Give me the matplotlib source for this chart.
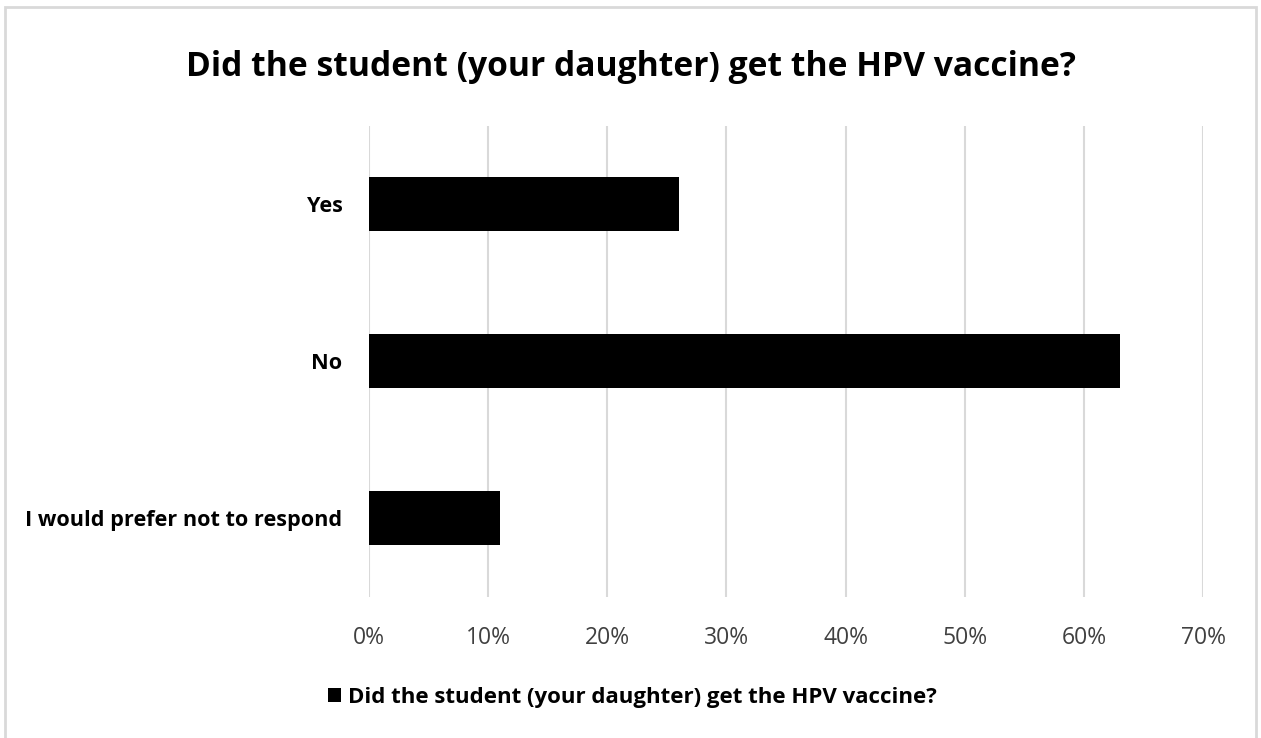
import matplotlib.pyplot as plt
from matplotlib.patches import Rectangle
from matplotlib.ticker import PercentFormatter

plt.rcParams['font.family'] = ['Open Sans', 'DejaVu Sans']

categories = ['Yes', 'No', 'I would prefer not to respond']
shares = [0.26, 0.63, 0.11]
xticks = [0, 0.1, 0.2, 0.3, 0.4, 0.5, 0.6, 0.7]
title = 'Did the student (your daughter) get the HPV vaccine?'

fig = plt.figure(figsize=(12.61, 7.38), dpi=100)
ax = fig.add_axes([369 / 1261, 1 - 596.5 / 738, (1203 - 369) / 1261, (596.5 - 125.5) / 738])

ypos = list(range(len(categories)))
ax.barh(ypos, shares, height=0.35, color='black', zorder=3, label=title)
ax.set_ylim(len(categories) - 0.5, -0.5)
ax.set_xlim(0, 0.7)
ax.set_xticks(xticks)
ax.xaxis.set_major_formatter(PercentFormatter(1.0, decimals=0))
ax.set_yticks(ypos)
ax.set_yticklabels(categories, fontweight='bold', fontsize=15.6)
ax.tick_params(axis='x', labelsize=16.5, length=0, pad=21, colors='#404040')
ax.tick_params(axis='y', length=0, pad=19)
ax.grid(axis='x', color='#d9d9d9', linewidth=1.5, zorder=0)
for s in ax.spines.values():
    s.set_visible(False)

fig.text(0.5, 1 - 67 / 738, title, ha='center', va='center', fontsize=24.2, fontweight='bold')

# legend
fig.legend(loc='center', bbox_to_anchor=(632 / 1261, 1 - 697 / 738), frameon=False,
           prop={'weight': 'bold', 'size': 16}, handlelength=0.6, handleheight=0.6,
           handletextpad=0.3)

# chart border
fig.patches.append(Rectangle((5 / 1261, -0.01), 1251 / 1261, 1 - 7 / 738 + 0.01,
                             transform=fig.transFigure, fill=False,
                             edgecolor='#d9d9d9', linewidth=2))

fig.savefig('out.png', dpi=100)
